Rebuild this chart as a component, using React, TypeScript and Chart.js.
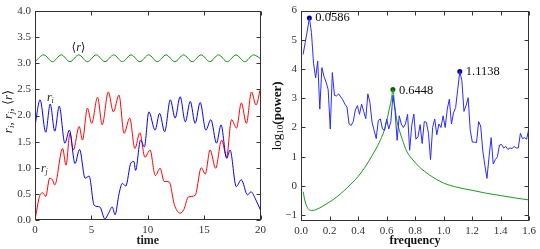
import React, { useEffect, useRef } from 'react';
import { Chart, registerables } from 'chart.js';

Chart.register(...registerables);

const SERIF = "'Liberation Serif', 'DejaVu Serif', serif";

// ---------- left panel data ----------
const TIME_TICKS = [0, 5, 10, 15, 20];
const R_TICKS = [0, 0.5, 1, 1.5, 2, 2.5, 3, 3.5, 4];

const RI_TIME = [0, 0.45, 0.95, 1.35, 1.75, 2.15, 2.65, 3.05, 3.55, 3.95, 4.45, 4.8, 5.25, 5.75, 6.2, 6.5, 6.85, 7.1, 7.45, 7.75, 8.05, 8.5, 8.77, 8.92, 9.36, 9.7, 10.1, 10.65, 11.05, 11.5, 12.0, 12.43, 12.87, 13.33, 13.77, 14.2, 14.65, 15.15, 15.6, 16.1, 16.5, 17.0, 17.3, 17.85, 18.3, 18.85, 19.15, 19.6, 20];
const RI_VALUE = [1.80, 2.30, 1.68, 2.22, 1.70, 2.18, 1.47, 1.72, 1.08, 1.35, 0.80, 0.84, 0.28, 0.25, 0.02, 0.12, 0.25, 0.10, 0.50, 0.70, 0.65, 1.09, 1.12, 0.95, 1.53, 1.40, 2.07, 1.72, 2.04, 1.69, 2.30, 1.95, 2.36, 1.88, 2.27, 1.85, 2.25, 1.72, 1.92, 1.47, 1.82, 1.18, 1.34, 0.64, 0.77, 0.48, 0.54, 0.38, 0.19];

const RJ_TIME = [0, 0.4, 0.7, 0.95, 1.3, 1.55, 1.75, 2.45, 2.75, 3.1, 3.4, 3.92, 4.21, 4.65, 5.03, 5.55, 5.96, 6.5, 6.95, 7.45, 7.9, 8.4, 8.86, 9.3, 9.75, 10.2, 10.67, 11.1, 11.45, 11.9, 12.35, 12.6, 12.87, 13.2, 13.6, 14.2, 14.75, 15.1, 15.53, 16.02, 16.55, 16.99, 17.43, 17.87, 18.3, 18.75, 19.2, 19.6, 20];
const RJ_VALUE = [0.0, 0.45, 0.52, 0.45, 0.80, 0.77, 0.67, 1.37, 1.05, 1.66, 1.34, 1.79, 1.53, 2.14, 1.85, 2.35, 1.82, 2.45, 2.07, 2.39, 1.66, 1.95, 1.37, 1.67, 1.20, 1.34, 0.85, 0.99, 0.74, 0.73, 0.30, 0.18, 0.13, 0.20, 0.44, 0.47, 1.00, 0.88, 1.34, 0.99, 1.53, 1.21, 1.92, 1.76, 2.24, 1.85, 2.45, 2.20, 2.52];

const RMEAN_TIME = [0, 0.78, 1.55, 2.33, 3.1, 3.88, 4.65, 5.43, 6.2, 6.98, 7.75, 8.53, 9.3, 10.08, 10.85, 11.63, 12.4, 13.18, 13.95, 14.73, 15.5, 16.28, 17.05, 17.83, 18.6, 19.38, 20];
const RMEAN_VALUE = [3.03, 3.16, 3.03, 3.16, 3.03, 3.16, 3.03, 3.16, 3.03, 3.16, 3.03, 3.16, 3.03, 3.16, 3.03, 3.16, 3.03, 3.16, 3.03, 3.16, 3.03, 3.16, 3.03, 3.16, 3.03, 3.16, 3.09];

// ---------- right panel data ----------
const FREQ_TICKS = [0, 0.2, 0.4, 0.6, 0.8, 1.0, 1.2, 1.4, 1.6];
const POWER_TICKS = [-1, 0, 1, 2, 3, 4, 5, 6];

const SPEC_FREQ = [0.0147, 0.0293, 0.0440, 0.0586, 0.0733, 0.0879, 0.1026, 0.1172, 0.1319, 0.1466, 0.1612, 0.1759, 0.1905, 0.2052, 0.2198, 0.2345, 0.2491, 0.2638, 0.2784, 0.2931, 0.3078, 0.3224, 0.3371, 0.3517, 0.3664, 0.3810, 0.3957, 0.4103, 0.4250, 0.4397, 0.4543, 0.4690, 0.4836, 0.4983, 0.5129, 0.5276, 0.5422, 0.5569, 0.5715, 0.5862, 0.6009, 0.6155, 0.6302, 0.6448, 0.6595, 0.6741, 0.6888, 0.7034, 0.7181, 0.7328, 0.7474, 0.7621, 0.7767, 0.7914, 0.8060, 0.8207, 0.8353, 0.8500, 0.8646, 0.8793, 0.8940, 0.9086, 0.9233, 0.9379, 0.9526, 0.9672, 0.9819, 0.9965, 1.0112, 1.0259, 1.0405, 1.0552, 1.0698, 1.0845, 1.0991, 1.1138, 1.1284, 1.1431, 1.1577, 1.1724, 1.1871, 1.2017, 1.2164, 1.2310, 1.2457, 1.2603, 1.2750, 1.2896, 1.3043, 1.3190, 1.3336, 1.3483, 1.3629, 1.3776, 1.3922, 1.4069, 1.4215, 1.4362, 1.4508, 1.4655, 1.4802, 1.4948, 1.5095, 1.5241, 1.5388, 1.5534, 1.5681, 1.5827, 1.5974];
const SPEC_POWER = [4.50, 4.90, 5.30, 5.75, 5.25, 4.20, 3.70, 4.27, 2.63, 4.05, 3.75, 3.55, 3.30, 1.95, 3.88, 3.10, 3.08, 3.15, 3.05, 2.95, 2.80, 2.70, 2.12, 2.07, 2.20, 2.60, 2.75, 2.45, 2.80, 2.55, 2.30, 3.15, 2.85, 2.18, 1.90, 1.62, 2.24, 2.29, 1.95, 1.90, 2.29, 1.95, 2.20, 3.10, 2.60, 1.56, 2.40, 2.12, 2.00, 2.12, 2.45, 1.22, 2.07, 2.46, 1.60, 1.68, 2.10, 1.45, 2.20, 2.18, 1.80, 0.90, 2.00, 2.29, 1.75, 2.12, 2.00, 2.40, 2.00, 2.63, 2.97, 2.12, 2.50, 2.68, 3.30, 3.92, 3.60, 2.55, 2.75, 3.02, 1.90, 1.50, 1.50, 1.48, 2.20, 2.05, 1.20, 0.70, 0.26, 1.00, 1.65, 0.75, 0.90, 1.00, 1.40, 1.42, 1.30, 1.35, 1.25, 1.30, 1.28, 1.35, 1.30, 1.30, 1.80, 1.62, 1.65, 1.60, 1.95];

const FIT_FREQ = [0.0147, 0.03, 0.05, 0.073, 0.1, 0.15, 0.2, 0.25, 0.3, 0.35, 0.4, 0.45, 0.5, 0.55, 0.58, 0.6, 0.62, 0.635, 0.6448, 0.655, 0.67, 0.69, 0.71, 0.74, 0.78, 0.83, 0.9, 1.0, 1.1, 1.2, 1.3, 1.4, 1.5, 1.6];
const FIT_POWER = [-0.2, -0.55, -0.78, -0.84, -0.82, -0.70, -0.55, -0.38, -0.17, 0.06, 0.32, 0.65, 1.05, 1.5, 1.85, 2.2, 2.65, 3.0, 3.3, 2.85, 2.3, 1.9, 1.6, 1.2, 0.92, 0.65, 0.38, 0.1, -0.05, -0.15, -0.25, -0.33, -0.41, -0.48];

const PEAK_FREQ = [0.0586, 1.1138];
const PEAK_POWER = [5.75, 3.92];
const PEAK_LABELS = ['0.0586', '1.1138'];
const FIT_PEAK_FREQ = [0.6448];
const FIT_PEAK_POWER = [3.3];
const FIT_PEAK_LABELS = ['0.6448'];

// ---------- helpers ----------
type Part = { t: string; font: string; dy?: number };
function drawParts(ctx: CanvasRenderingContext2D, parts: Part[], cx: number, cy: number, rot: number) {
  ctx.save();
  ctx.translate(cx, cy);
  if (rot) ctx.rotate(rot);
  let total = 0;
  const widths = parts.map((p) => {
    ctx.font = p.font;
    const w = ctx.measureText(p.t).width;
    total += w;
    return w;
  });
  let x = -total / 2;
  ctx.textBaseline = 'middle';
  ctx.textAlign = 'left';
  parts.forEach((p, i) => {
    ctx.font = p.font;
    ctx.fillText(p.t, x, p.dy || 0);
    x += widths[i];
  });
  ctx.restore();
}

const framePlugin = {
  id: 'frameTicks',
  afterDatasetsDraw(chart: any) {
    const { ctx, chartArea: a, scales } = chart;
    const xs = scales.x;
    const ys = scales.y;
    ctx.save();
    ctx.strokeStyle = '#333';
    ctx.lineWidth = 1;
    const L = Math.round(a.left) + 0.5;
    const R = Math.round(a.right) - 0.5;
    const T = Math.round(a.top) + 0.5;
    const B = Math.round(a.bottom) - 0.5;
    ctx.strokeRect(L, T, R - L, B - T);
    ctx.beginPath();
    xs.ticks.forEach((t: any) => {
      const p = Math.round(xs.getPixelForValue(t.value)) + 0.5;
      ctx.moveTo(p, B);
      ctx.lineTo(p, B - 4);
      ctx.moveTo(p, T);
      ctx.lineTo(p, T + 4);
    });
    ys.ticks.forEach((t: any) => {
      const p = Math.round(ys.getPixelForValue(t.value)) + 0.5;
      ctx.moveTo(L, p);
      ctx.lineTo(L + 4, p);
      ctx.moveTo(R, p);
      ctx.lineTo(R - 4, p);
    });
    ctx.stroke();
    ctx.restore();
  },
};

const ital = `italic 12px ${SERIF}`;
const sub = `italic 8px ${SERIF}`;
const rom = `12px ${SERIF}`;
const bold = `bold 12px ${SERIF}`;
const italBig = `italic 13px ${SERIF}`;
const subBig = `italic 9px ${SERIF}`;
const romBig = `13px ${SERIF}`;
const boldBig = `bold 13px ${SERIF}`;

const leftText = {
  id: 'leftText',
  afterDatasetsDraw(chart: any) {
    const { ctx, chartArea: a, scales } = chart;
    const x = scales.x;
    const y = scales.y;
    ctx.save();
    ctx.fillStyle = '#222';
    drawParts(ctx, [{ t: '⟨', font: rom }, { t: 'r', font: ital }, { t: '⟩', font: rom }], x.getPixelForValue(3.86), y.getPixelForValue(3.3), 0);
    drawParts(ctx, [{ t: 'r', font: ital }, { t: 'i', font: sub, dy: 3 }], x.getPixelForValue(1.36), y.getPixelForValue(2.33), 0);
    drawParts(ctx, [{ t: 'r', font: ital }, { t: 'j', font: sub, dy: 3 }], x.getPixelForValue(0.83), y.getPixelForValue(0.97), 0);
    drawParts(
      ctx,
      [
        { t: 'r', font: italBig }, { t: 'i', font: subBig, dy: 3 }, { t: ', ', font: romBig },
        { t: 'r', font: italBig }, { t: 'j', font: subBig, dy: 3 }, { t: ', ', font: romBig },
        { t: '⟨', font: romBig }, { t: 'r', font: italBig }, { t: '⟩', font: romBig },
      ],
      9, (a.top + a.bottom) / 2 - 4, -Math.PI / 2
    );
    drawParts(ctx, [{ t: 'time', font: bold }], (a.left + a.right) / 2, 241, 0);
    ctx.restore();
  },
};

const rightText = {
  id: 'rightText',
  afterDatasetsDraw(chart: any) {
    const { ctx, chartArea: a, scales } = chart;
    const x = scales.x;
    const y = scales.y;
    ctx.save();
    ctx.fillStyle = '#111';
    ctx.font = `12.5px ${SERIF}`;
    ctx.textAlign = 'left';
    ctx.textBaseline = 'middle';
    PEAK_FREQ.forEach((f, i) => {
      ctx.fillText(PEAK_LABELS[i], x.getPixelForValue(f) + 6, y.getPixelForValue(PEAK_POWER[i]));
    });
    FIT_PEAK_FREQ.forEach((f, i) => {
      ctx.fillText(FIT_PEAK_LABELS[i], x.getPixelForValue(f) + 6, y.getPixelForValue(FIT_PEAK_POWER[i]) + 1);
    });
    drawParts(
      ctx,
      [{ t: 'log', font: romBig }, { t: '10', font: `9px ${SERIF}`, dy: 3 }, { t: '(power)', font: boldBig }],
      8, (a.top + a.bottom) / 2, -Math.PI / 2
    );
    drawParts(ctx, [{ t: 'frequency', font: bold }], (a.left + a.right) / 2, 241, 0);
    ctx.restore();
  },
};

const pts = (xs: number[], ys: number[]) => xs.map((v, i) => ({ x: v, y: ys[i] }));

const tickFont = { family: SERIF, size: 11 };

function leftConfig(): any {
  return {
    type: 'line',
    data: {
      datasets: [
        { data: pts(RI_TIME, RI_VALUE), borderColor: '#0000ff', borderWidth: 1, cubicInterpolationMode: 'monotone', pointRadius: 0 },
        { data: pts(RJ_TIME, RJ_VALUE), borderColor: '#ff0000', borderWidth: 1, cubicInterpolationMode: 'monotone', pointRadius: 0 },
        { data: pts(RMEAN_TIME, RMEAN_VALUE), borderColor: '#118811', borderWidth: 1, cubicInterpolationMode: 'monotone', pointRadius: 0 },
      ],
    },
    options: {
      responsive: false,
      animation: false,
      devicePixelRatio: 1,
      layout: { padding: { top: 11, right: 7, left: 0, bottom: 0 } },
      plugins: { legend: { display: false }, tooltip: { enabled: false } },
      scales: {
        x: {
          type: 'linear', min: 0, max: 20,
          afterBuildTicks: (s: any) => { s.ticks = TIME_TICKS.map((v) => ({ value: v })); },
          afterFit: (s: any) => { s.height = 29; },
          grid: { display: false, drawTicks: false },
          border: { display: false },
          ticks: { font: tickFont, color: '#333', padding: 4, maxRotation: 0, autoSkip: false, callback: (v: any) => String(v) },
        },
        y: {
          type: 'linear', min: 0, max: 4,
          afterBuildTicks: (s: any) => { s.ticks = R_TICKS.map((v) => ({ value: v })); },
          afterFit: (s: any) => { s.width = 35; },
          grid: { display: false, drawTicks: false },
          border: { display: false },
          ticks: { font: tickFont, color: '#333', padding: 4, autoSkip: false, callback: (v: any) => Number(v).toFixed(1) },
        },
      },
    },
    plugins: [framePlugin, leftText],
  };
}

function rightConfig(): any {
  return {
    type: 'line',
    data: {
      datasets: [
        { data: pts(SPEC_FREQ, SPEC_POWER), borderColor: '#2b2bff', borderWidth: 1, tension: 0, pointRadius: 0 },
        { data: pts(FIT_FREQ, FIT_POWER), borderColor: '#1a991a', borderWidth: 1, cubicInterpolationMode: 'monotone', pointRadius: 0 },
        { data: pts(PEAK_FREQ, PEAK_POWER), showLine: false, pointRadius: 2.5, pointBackgroundColor: '#0000a0', pointBorderColor: '#0000a0', pointBorderWidth: 0 },
        { data: pts(FIT_PEAK_FREQ, FIT_PEAK_POWER), showLine: false, pointRadius: 2.5, pointBackgroundColor: '#006400', pointBorderColor: '#006400', pointBorderWidth: 0 },
      ],
    },
    options: {
      responsive: false,
      animation: false,
      devicePixelRatio: 1,
      layout: { padding: { top: 9, right: 10, left: 0, bottom: 0 } },
      plugins: { legend: { display: false }, tooltip: { enabled: false } },
      scales: {
        x: {
          type: 'linear', min: 0, max: 1.6,
          afterBuildTicks: (s: any) => { s.ticks = FREQ_TICKS.map((v) => ({ value: v })); },
          afterFit: (s: any) => { s.height = 28; },
          grid: { display: false, drawTicks: false },
          border: { display: false },
          ticks: { font: tickFont, color: '#333', padding: 4, maxRotation: 0, autoSkip: false, callback: (v: any) => Number(v).toFixed(1) },
        },
        y: {
          type: 'linear', min: -1.2, max: 6,
          afterBuildTicks: (s: any) => { s.ticks = POWER_TICKS.map((v) => ({ value: v })); },
          afterFit: (s: any) => { s.width = 31; },
          grid: { display: false, drawTicks: false },
          border: { display: false },
          ticks: { font: tickFont, color: '#333', padding: 4, autoSkip: false, callback: (v: any) => (Number(v) < 0 ? '−' + Math.abs(Number(v)) : String(v)) },
        },
      },
    },
    plugins: [framePlugin, rightText],
  };
}

export default function App() {
  const leftRef = useRef<HTMLCanvasElement>(null);
  const rightRef = useRef<HTMLCanvasElement>(null);
  useEffect(() => {
    const c1 = new Chart(leftRef.current as HTMLCanvasElement, leftConfig());
    const c2 = new Chart(rightRef.current as HTMLCanvasElement, rightConfig());
    return () => {
      c1.destroy();
      c2.destroy();
    };
  }, []);
  return (
    <div style={{ position: 'absolute', left: 0, top: 0, width: 540, height: 249, background: '#fff' }}>
      <canvas ref={leftRef} width={270} height={249} style={{ position: 'absolute', left: 0, top: 0, width: 270, height: 249 }} />
      <canvas ref={rightRef} width={270} height={249} style={{ position: 'absolute', left: 270, top: 0, width: 270, height: 249 }} />
    </div>
  );
}
